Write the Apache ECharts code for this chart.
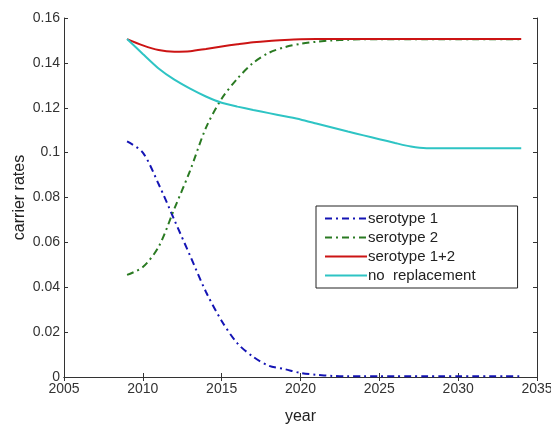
<!DOCTYPE html>
<html>
<head>
<meta charset="utf-8">
<script src="https://cdn.jsdelivr.net/npm/echarts@6/dist/echarts.min.js"></script>
<style>
  html, body { margin: 0; padding: 0; background: #fff; }
  #chart { width: 551px; height: 426px; }
</style>
</head>
<body>
<div id="chart"></div>
<script>
// data
const years = [2009, 2010, 2011, 2012, 2013, 2014, 2015, 2016, 2017, 2018, 2019, 2020, 2021,
  2022, 2023, 2024, 2025, 2026, 2027, 2028, 2029, 2030, 2031, 2032, 2033, 2034];

const serotype1 = [0.105, 0.100, 0.086, 0.070, 0.054, 0.038, 0.025, 0.015, 0.009, 0.005, 0.0035,
  0.0018, 0.001, 0.0005, 0.0003, 0.0003, 0.0003, 0.0003, 0.0003, 0.0003, 0.0003, 0.0003, 0.0003,
  0.0003, 0.0003, 0.0003];

const serotype2 = [0.0455, 0.049, 0.058, 0.075, 0.092, 0.111, 0.124, 0.133, 0.140, 0.1445, 0.147,
  0.1485, 0.1494, 0.150, 0.1503, 0.1505, 0.1505, 0.1505, 0.1505, 0.1505, 0.1505, 0.1505, 0.1505,
  0.1505, 0.1505, 0.1505];

const serotype12 = [0.1506, 0.1478, 0.1457, 0.1450, 0.1452, 0.1462, 0.1473, 0.1483, 0.1492, 0.1498,
  0.1502, 0.1505, 0.1506, 0.1506, 0.1506, 0.1506, 0.1506, 0.1506, 0.1506, 0.1506, 0.1506, 0.1506,
  0.1506, 0.1506, 0.1506, 0.1506];

const noReplacement = [0.1506, 0.1440, 0.1375, 0.1325, 0.1285, 0.1250, 0.1222, 0.1205, 0.1190,
  0.1176, 0.1162, 0.1148, 0.1130, 0.1112, 0.1094, 0.1077, 0.1060, 0.1043, 0.1027, 0.1020, 0.1020,
  0.1020, 0.1020, 0.1020, 0.1020, 0.1020];

const seriesNames = ['serotype 1', 'serotype 2', 'serotype 1+2', 'no  replacement'];

const pairs = (vals) => years.map((y, i) => [y, vals[i]]);

const axisColor = '#333';
const fontFamily = 'Liberation Sans, Arial, sans-serif';
const labelStyle = { color: '#333', fontSize: 14, fontFamily };
const dashDot = [7, 4, 2, 4];

const chart = echarts.init(document.getElementById('chart'));

const option = {
  animation: false,
  grid: { left: 64, right: 14, top: 18, bottom: 49, outerBoundsMode: 'none', containLabel: false },
  legend: {
    orient: 'vertical',
    left: 316,
    top: 206,
    padding: [5, 42, 5, 8],
    itemGap: 4,
    itemWidth: 42,
    itemHeight: 16,
    borderColor: '#222',
    borderWidth: 1,
    backgroundColor: '#fff',
    itemStyle: { opacity: 0 },
    textStyle: { color: '#222', fontSize: 15, fontFamily, padding: [0, 0, 0, -4] },
    data: seriesNames
  },
  xAxis: [{
    type: 'value',
    min: 2005, max: 2035, interval: 5,
    name: 'year',
    nameLocation: 'middle',
    nameGap: 32,
    nameMoveOverlap: false,
    nameTextStyle: { color: '#222', fontSize: 16, fontFamily },
    axisLine: { lineStyle: { color: axisColor } },
    axisTick: { inside: true, length: 4, lineStyle: { color: axisColor } },
    axisLabel: { ...labelStyle, margin: 5, formatter: v => String(v) },
    splitLine: { show: false }
  }, {
    type: 'value',
    position: 'top',
    min: 2005, max: 2035, interval: 5,
    axisLine: { show: true, lineStyle: { color: axisColor } },
    axisTick: { inside: true, length: 4, lineStyle: { color: axisColor } },
    axisLabel: { show: false },
    splitLine: { show: false }
  }],
  yAxis: [{
    type: 'value',
    min: 0, max: 0.16, interval: 0.02,
    name: 'carrier rates',
    nameLocation: 'middle',
    nameGap: 36,
    nameMoveOverlap: false,
    nameTextStyle: { color: '#222', fontSize: 16, fontFamily },
    axisLine: { show: true, lineStyle: { color: axisColor } },
    axisTick: { show: true, inside: true, length: 4, lineStyle: { color: axisColor } },
    axisLabel: { ...labelStyle, margin: 4, formatter: v => String(+v.toFixed(2)) },
    splitLine: { show: false }
  }, {
    type: 'value',
    position: 'right',
    min: 0, max: 0.16, interval: 0.02,
    axisLine: { show: true, lineStyle: { color: axisColor } },
    axisTick: { show: true, inside: true, length: 4, lineStyle: { color: axisColor } },
    axisLabel: { show: false },
    splitLine: { show: false }
  }],
  series: [
    {
      name: seriesNames[0], type: 'line', symbol: 'none', smooth: 0.3,
      data: pairs(serotype1),
      lineStyle: { color: '#1414b4', width: 2, type: dashDot },
      itemStyle: { color: '#1414b4' }
    },
    {
      name: seriesNames[1], type: 'line', symbol: 'none', smooth: 0.3,
      data: pairs(serotype2),
      lineStyle: { color: '#2a7a22', width: 2, type: dashDot },
      itemStyle: { color: '#2a7a22' }
    },
    {
      name: seriesNames[2], type: 'line', symbol: 'none', smooth: 0.3,
      data: pairs(serotype12),
      lineStyle: { color: '#cc1414', width: 2 },
      itemStyle: { color: '#b01818' }
    },
    {
      name: seriesNames[3], type: 'line', symbol: 'none', smooth: 0.2,
      data: pairs(noReplacement),
      lineStyle: { color: '#2ec4c4', width: 2 },
      itemStyle: { color: '#2ec4c4' }
    }
  ]
};

chart.setOption(option);
</script>
</body>
</html>
